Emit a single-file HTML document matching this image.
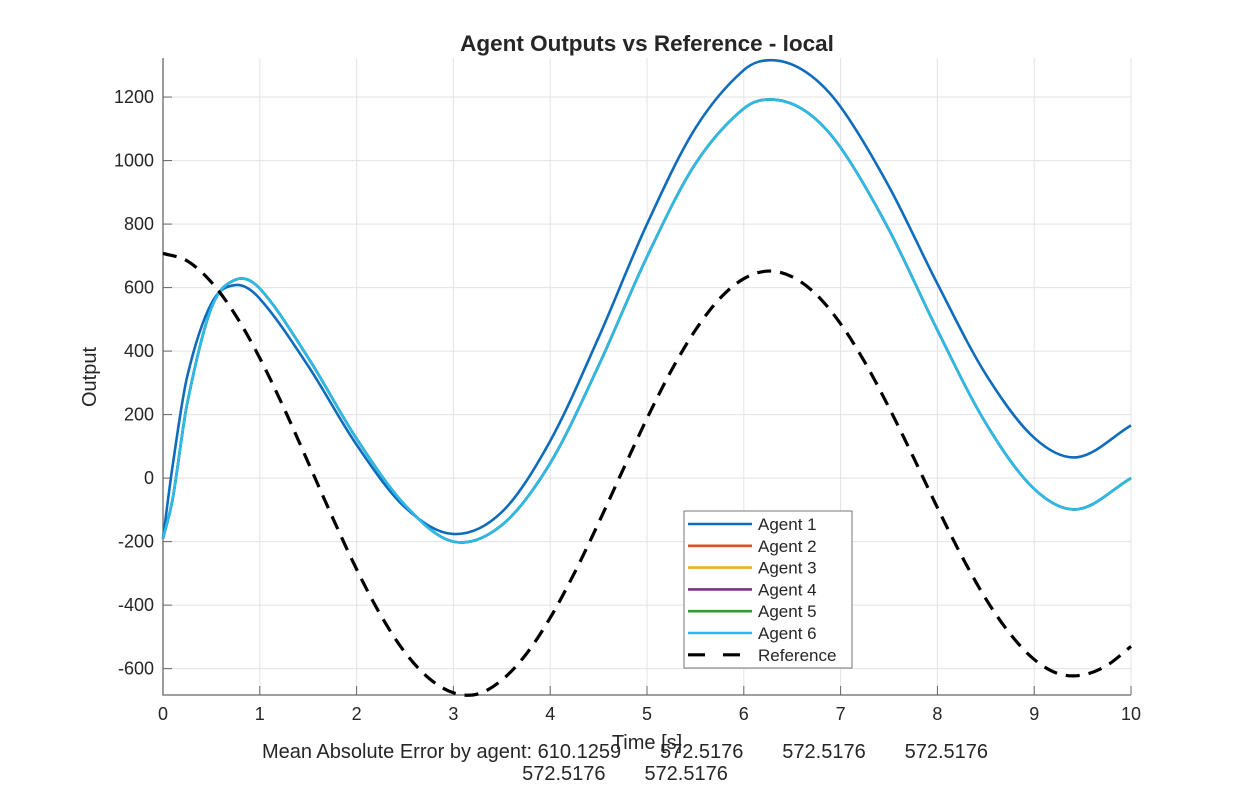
<!DOCTYPE html>
<html><head><meta charset="utf-8"><style>
body{margin:0;background:#fff;font-family:"Liberation Sans",Arial,sans-serif}
svg text{font-family:"Liberation Sans",Arial,sans-serif}
</style></head><body>
<svg id="chart" width="1250" height="782" viewBox="0 0 1250 782" xmlns="http://www.w3.org/2000/svg">
<rect width="1250" height="782" fill="#fff"/>
<g id="grid"></g>
<g id="axes"></g>
<g id="series"></g>
<text x="647" y="51" text-anchor="middle" font-size="22.5" font-weight="bold" fill="#262626">Agent Outputs vs Reference - local</text>
<text transform="translate(96,377) rotate(-90)" text-anchor="middle" font-size="20" fill="#262626">Output</text>
<text x="647" y="749" text-anchor="middle" font-size="20" fill="#262626">Time [s]</text>
<text x="625" y="758" text-anchor="middle" font-size="20" fill="#262626" xml:space="preserve">Mean Absolute Error by agent: 610.1259       572.5176       572.5176       572.5176</text>
<text x="625" y="780" text-anchor="middle" font-size="20" fill="#262626" xml:space="preserve">572.5176       572.5176</text>
<g id="legend"></g>
</svg>
<script>
const xTicks=[0,1,2,3,4,5,6,7,8,9,10];
const yTicks=[-600,-400,-200,0,200,400,600,800,1000,1200];
const tAgent=[0,0.1,0.25,0.5,0.75,1,1.5,2,2.5,3,3.5,4,4.5,5,5.5,6,6.3,6.65,7,7.5,8,8.5,9,9.45,10];
const agent1=[-190,40,320,550,608,565,353,105,-92,-176,-107,117,443,800,1102,1285,1316,1277,1169,918,612,327,127,66,166];
const agent6=[-190,-65,235,536,625,597,379,124,-85,-200,-148,47,354,697,990,1164,1192,1153,1041,782,466,173,-34,-98,0];
const tRef=[0,0.25,0.5,0.75,1,1.25,1.5,1.75,2,2.25,2.5,2.75,3,3.25,3.5,3.75,4,4.25,4.5,4.75,5,5.25,5.5,5.75,6,6.25,6.5,6.75,7,7.25,7.5,7.75,8,8.25,8.5,8.75,9,9.25,9.5,9.75,10];
const reference=[708,684,617,513,378,220,49,-123,-287,-432,-549,-631,-676,-680,-636,-555,-440,-299,-141,25,188,338,466,565,628,652,634,578,486,365,222,67,-93,-245,-380,-490,-571,-616,-620,-590,-530];
const legendLabels=["Agent 1","Agent 2","Agent 3","Agent 4","Agent 5","Agent 6","Reference"];
const legendColors=["#0f6cbd","#d95319","#edb120","#7e2f8e","#2ca02c","#2bbaeb","#000"];

const NS="http://www.w3.org/2000/svg";
const X0=163,X1=1131,Y0=58,Y1=695,YMIN=-683,YMAX=1323;
const sx=t=>X0+(t-0)/(10-0)*(X1-X0);
const sy=v=>Y1-(v-YMIN)/(YMAX-YMIN)*(Y1-Y0);
function mk(tag,attrs,parent){const e=document.createElementNS(NS,tag);for(const k in attrs)e.setAttribute(k,attrs[k]);parent.appendChild(e);return e;}
const grid=document.getElementById('grid'),axes=document.getElementById('axes'),ser=document.getElementById('series'),leg=document.getElementById('legend');
xTicks.forEach(t=>{
  const l=mk('line',{x1:sx(t),x2:sx(t),y1:Y0,y2:Y1,stroke:'#e3e3e3','stroke-width':1},grid);
  
  
  const k=mk('line',{x1:sx(t),x2:sx(t),y1:Y1,y2:Y1-9,stroke:'#666','stroke-width':1},axes);
  
  
  const tx=mk('text',{x:sx(t),y:Y1+25,'text-anchor':'middle','font-size':18,fill:'#262626'},axes);
  tx.textContent=t;
  
  
});
yTicks.forEach(v=>{
  const l=mk('line',{x1:X0,x2:X1,y1:sy(v),y2:sy(v),stroke:'#e3e3e3','stroke-width':1},grid);
  
  
  const k=mk('line',{x1:X0,x2:X0+9,y1:sy(v),y2:sy(v),stroke:'#666','stroke-width':1},axes);
  
  
  const tx=mk('text',{x:X0-9,y:sy(v)+6,'text-anchor':'end','font-size':18,fill:'#262626'},axes);
  tx.textContent=v;
  
  
});
const ax=mk('path',{d:`M${X0},${Y0}V${Y1}H${X1}`,fill:'none',stroke:'#666','stroke-width':1.3},axes);


function pathD(xs,ys){
  const p=xs.map((t,i)=>[sx(t),sy(ys[i])]);
  let d=`M${p[0][0]},${p[0][1]}`;
  for(let i=0;i<p.length-1;i++){
    const a=p[Math.max(i-1,0)],b=p[i],c=p[i+1],e=p[Math.min(i+2,p.length-1)];
    const h=(c[0]-b[0]);
    const m1=(c[1]-a[1])/(c[0]-a[0]||1), m2=(e[1]-b[1])/(e[0]-b[0]||1);
    d+=`C${b[0]+h/3},${b[1]+m1*h/3} ${c[0]-h/3},${c[1]-m2*h/3} ${c[0]},${c[1]}`;
  }
  return d;
}
const agentData=[agent1,agent6,agent6,agent6,agent6,agent6];
[1,2,3,4,0,5].forEach(i=>{
  const p=mk('path',{d:pathD(tAgent,agentData[i]),fill:'none',stroke:legendColors[i],'stroke-width':2.6},ser);
  
  
});
const rp=mk('path',{d:pathD(tRef,reference),fill:'none',stroke:'#000','stroke-width':3.2,'stroke-dasharray':'14 9'},ser);


const box=mk('rect',{x:684,y:511,width:168,height:157,fill:'#fff',stroke:'#777','stroke-width':1},leg);


legendLabels.forEach((lab,i)=>{
  const y=524+i*21.8;
  const ln=mk('line',{x1:688,x2:752,y1:y,y2:y,stroke:legendColors[i],'stroke-width':i==6?3.2:2.6,'stroke-dasharray':i==6?'17 18':'none'},leg);
  
  
  const tx=mk('text',{x:758,y:y+6,'font-size':17,fill:'#262626'},leg);
  tx.textContent=lab;
  
  
});
</script>
</body></html>
